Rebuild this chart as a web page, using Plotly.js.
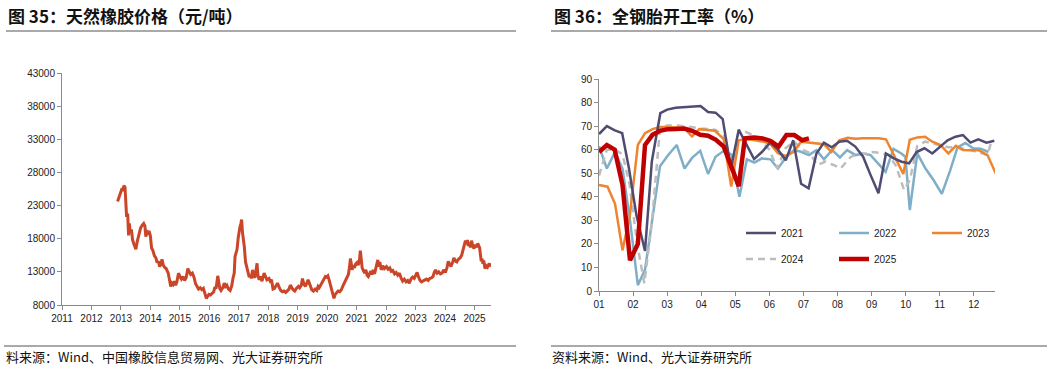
<!DOCTYPE html>
<html>
<head>
<meta charset="utf-8">
<script src="https://cdn.plot.ly/plotly-3.0.1.min.js"></script>
<style>
html,body{margin:0;padding:0;background:#fff;}
#chart{width:1053px;height:367px;}
</style>
</head>
<body>
<div id="chart"></div>
<script>
// ---------- Left chart: natural rubber price (yuan/ton) ----------
const priceDates = [
"2012-11-20","2012-12-10","2012-12-28","2013-01-15","2013-01-25","2013-02-05","2013-02-20","2013-03-01","2013-03-12","2013-03-25",
"2013-04-05","2013-04-15","2013-04-25","2013-05-10","2013-05-25","2013-06-10","2013-07-05","2013-07-20","2013-08-10","2013-09-01",
"2013-09-20","2013-10-10","2013-10-25","2013-11-05","2013-11-15","2013-12-01","2013-12-15","2014-01-01","2014-01-15","2014-02-01",
"2014-02-20","2014-03-10","2014-03-25","2014-04-10","2014-04-25","2014-05-10","2014-05-25","2014-06-10","2014-06-25","2014-07-15",
"2014-08-10","2014-08-25","2014-09-10","2014-09-25","2014-10-10","2014-10-25","2014-11-10","2014-11-25","2014-12-15","2015-01-05",
"2015-01-20","2015-02-10","2015-03-01","2015-03-20","2015-04-10","2015-04-25","2015-05-15","2015-06-05","2015-06-25","2015-07-15",
"2015-07-30","2015-08-20","2015-09-10","2015-10-01","2015-10-20","2015-11-10","2015-11-25","2015-12-10","2015-12-28","2016-01-15",
"2016-02-05","2016-02-25","2016-03-10","2016-03-25","2016-04-15","2016-04-28","2016-05-10","2016-05-25","2016-06-15","2016-07-05",
"2016-07-20","2016-08-05","2016-08-25","2016-09-15","2016-10-05","2016-10-20","2016-11-05","2016-11-15","2016-11-28","2016-12-10",
"2016-12-25","2017-01-05","2017-01-15","2017-01-25","2017-02-05","2017-02-15","2017-02-25","2017-03-10","2017-03-25","2017-04-10",
"2017-04-25","2017-05-10","2017-05-25","2017-06-05","2017-06-20","2017-07-05","2017-07-20","2017-08-05","2017-08-15","2017-08-25",
"2017-09-10","2017-09-25","2017-10-15","2017-11-10","2017-11-25","2017-12-15","2018-01-10","2018-01-25","2018-02-10","2018-03-01",
"2018-03-20","2018-04-10","2018-04-25","2018-05-15","2018-06-05","2018-06-25","2018-07-15","2018-08-05","2018-08-25","2018-09-15",
"2018-10-01","2018-10-15","2018-11-05","2018-11-25","2018-12-15","2019-01-10","2019-01-25","2019-02-15","2019-03-01","2019-03-15",
"2019-04-05","2019-04-20","2019-05-10","2019-05-25","2019-06-10","2019-06-25","2019-07-15","2019-08-05","2019-08-25","2019-09-10",
"2019-09-25","2019-10-15","2019-11-05","2019-11-25","2019-12-10","2019-12-25","2020-01-10","2020-01-25","2020-02-10","2020-02-20",
"2020-03-05","2020-03-15","2020-03-25","2020-04-10","2020-04-25","2020-05-15","2020-06-05","2020-06-25","2020-07-15","2020-08-01",
"2020-08-20","2020-09-05","2020-09-20","2020-10-05","2020-10-15","2020-10-25","2020-11-05","2020-11-20","2020-12-05","2020-12-20",
"2021-01-05","2021-01-20","2021-02-05","2021-02-15","2021-02-25","2021-03-10","2021-03-25","2021-04-10","2021-04-25","2021-05-10",
"2021-05-25","2021-06-10","2021-06-25","2021-07-10","2021-07-25","2021-08-10","2021-08-25","2021-09-10","2021-09-20","2021-10-01",
"2021-10-15","2021-11-01","2021-11-20","2021-12-10","2022-01-05","2022-01-25","2022-02-15","2022-03-05","2022-03-25","2022-04-15",
"2022-05-05","2022-05-25","2022-06-15","2022-07-05","2022-07-25","2022-08-15","2022-09-05","2022-09-25","2022-10-15","2022-11-05",
"2022-11-25","2022-12-15","2023-01-05","2023-01-20","2023-02-05","2023-02-25","2023-03-15","2023-04-05","2023-04-25","2023-05-15",
"2023-06-05","2023-06-25","2023-07-15","2023-08-05","2023-08-20","2023-09-05","2023-09-25","2023-10-15","2023-11-05","2023-11-25",
"2023-12-15","2024-01-05","2024-01-25","2024-02-10","2024-02-25","2024-03-15","2024-04-05","2024-04-20","2024-05-10","2024-05-25",
"2024-06-15","2024-07-05","2024-07-25","2024-08-10","2024-08-25","2024-09-10","2024-09-25","2024-10-05","2024-10-15","2024-10-25",
"2024-11-10","2024-11-25","2024-12-10","2024-12-25","2025-01-10","2025-01-25","2025-02-10","2025-02-20","2025-03-05","2025-03-15",
"2025-03-25","2025-04-05","2025-04-15","2025-04-25","2025-05-10","2025-05-25","2025-06-10","2025-06-25","2025-07-10","2025-07-20"
];
const priceValues = [
23600,24300,25000,25600,25200,26000,25800,22500,21300,21800,
18500,20300,18900,19400,17800,17200,16400,17500,18800,19600,
20000,20300,19900,18300,19300,18600,19200,18400,16600,16200,
15400,15100,14400,14600,13800,14100,14900,14000,13700,13500,
12800,11900,10800,11300,11100,11600,11000,11500,12800,12200,
11900,12300,11700,12100,13500,13100,12600,12800,12200,11200,
10800,10400,10600,10300,10500,9600,9000,9300,9600,9500,
9800,10000,10700,10500,12400,11600,10500,10200,10600,11300,
10800,11000,10400,10200,10900,12000,12800,15300,15900,16400,
18200,19300,19800,20200,20900,19000,18100,16800,14500,13500,
12800,12200,12600,12000,13300,12400,12100,13400,14300,12600,
11800,12300,11600,12800,12300,11800,12000,11600,11800,10400,
10500,11000,11300,10700,10200,10000,10100,9900,10200,10400,
11000,10700,10300,10100,10500,10800,10600,11000,12000,11300,
10800,11200,11800,11300,10700,10300,10100,10400,10200,10800,
10600,11000,11600,11800,12300,12200,12400,11800,11100,10400,
10000,9300,9000,9600,9800,10100,10000,10300,10900,11400,
11800,12300,12600,13800,15000,14300,13300,14000,13600,14200,
14400,14000,14800,16200,14700,13600,13200,12800,13300,12500,
12300,12800,13100,12600,13300,12700,13400,14100,14800,13800,
14500,13300,13900,13500,13800,13400,13600,13100,13200,12700,
12900,12500,12800,12100,11600,11900,11500,11700,11300,11900,
12200,12000,12600,12900,12300,11700,11500,11600,11800,11900,
11700,12000,12100,12300,12900,13300,12800,13000,12700,12800,
13300,12900,13600,14600,14200,13800,14500,15100,14600,14500,
14900,15100,15500,16300,16800,17700,17200,17800,16900,17400,
16700,17700,16900,16500,17100,16700,17300,17000,16600,15600,
14600,15000,14200,14700,13500,13900,13700,14100,14000,14300
];

// ---------- Right chart: all-steel tire operating rate (%) ----------
const monthLabels = ["01","02","03","04","05","06","07","08","09","10","11","12"];

const x2021 = [0,0.23,0.45,0.68,0.88,1.1,1.35,1.55,1.8,2.0,2.25,2.5,2.75,2.98,3.2,3.42,3.63,3.87,4.1,4.3,4.55,4.78,5.02,5.25,5.48,5.7,5.93,6.15,6.38,6.6,6.83,7.05,7.28,7.52,7.75,7.97,8.2,8.42,8.65,8.88,9.1,9.32,9.55,9.78,10.0,10.23,10.46,10.68,10.9,11.13,11.37,11.6];
const y2021 = [66.6,70,68.3,67,52,32,17,55,75.5,77,77.8,78,78,78.5,76,75.7,73,52,68.5,63,56,59,63,60,55.5,64,45.5,43.6,58.4,63,61,63.4,63.8,61.3,57,49.2,41.5,58.4,56.3,54.9,54.2,59,60.6,58.4,61,64,65.5,66.2,63,64.4,63,63.8];

const x2022 = [0,0.23,0.47,0.69,0.91,1.14,1.35,1.57,1.79,2.02,2.28,2.51,2.73,2.97,3.2,3.42,3.66,3.88,4.12,4.34,4.56,4.78,5.03,5.25,5.5,5.72,5.93,6.16,6.38,6.6,6.84,7.07,7.28,7.53,7.75,7.97,8.19,8.41,8.64,8.87,8.99,9.12,9.34,9.58,9.82,10.06,10.3,10.52,10.75,10.98,11.2,11.43];
const y2022 = [61.5,52,59,52,30,2.5,9,32,53,57.5,62,52,56.5,59.5,49.7,57,59.5,58,40,55.9,54.5,56.3,55.9,52,57,59.8,59.1,57.7,59.8,55.9,59.8,56.7,59.8,57.7,58.4,57.7,54,50.6,60.3,58.4,57,34.4,58.4,52,47,41.2,51,61,62.8,60.6,60.4,59];

const x2023 = [0,0.25,0.47,0.69,0.9,1.14,1.35,1.57,1.79,2.0,2.25,2.53,2.73,2.94,3.2,3.4,3.66,3.88,4.1,4.33,4.56,4.8,5.02,5.25,5.47,5.72,5.93,6.15,6.38,6.6,6.82,7.05,7.3,7.53,7.75,7.97,8.2,8.42,8.67,8.93,9.12,9.34,9.57,9.78,10.02,10.25,10.47,10.68,10.91,11.15,11.4,11.65];
const y2023 = [45,44.3,37,17.3,31.5,62,67,68.7,69.6,69.6,69.5,68.7,65.6,68.7,68.4,68,64.5,44.3,64,64.5,64,63.5,62.5,58.5,57.3,59.1,63.4,63,62.8,62.3,59.1,64,65,64.6,64.8,64.8,64.8,64.4,57,49.7,64.2,65.2,65.5,63.4,62,58.4,61.6,59.9,59.7,59.7,57.7,49.7];

const x2024 = [0,0.23,0.47,0.69,0.9,1.12,1.33,1.55,1.79,2.0,2.25,2.5,2.75,3.0,3.2,3.42,3.65,3.88,4.1,4.3,4.54,4.78,5.0,5.23,5.47,5.72,5.97,6.2,6.4,6.65,6.88,7.09,7.39,7.6,7.83,8.05,8.28,8.5,8.72,8.95,9.12,9.34,9.57,9.8,10.02,10.25,10.47,10.68,10.91,11.15,11.4,11.5,11.65];
const y2024 = [49,60,60,58,45,20,3.3,29,69,70.3,70.3,70,69.5,69,68.8,68.4,66,51,68,67.6,66,63.4,60,52,60.6,63.4,60,58.4,53.5,54.9,53.5,52,57,58,58.4,59,58.5,57.8,53,42.9,47,61.6,63.4,62.5,61.6,61,61,60.5,59.8,58.9,57.7,62.8,62.8];

const x2025 = [0,0.23,0.46,0.69,0.91,1.14,1.35,1.57,1.79,2.02,2.25,2.5,2.73,2.97,3.2,3.43,3.66,3.88,4.1,4.28,4.55,4.8,5.04,5.27,5.5,5.73,5.96,6.16];
const y2025 = [59,62,60,45,13,20,62,66.3,68,68.7,68.8,69,68,66.3,65.9,64.2,61.3,53.5,44.5,64.8,65.2,64.8,63.7,61.3,66.2,66.2,64,64.8];

const W = 1053, H = 367;
const px = v => v / W;
const py = v => 1 - v / H;

const tickFont = {family: "Liberation Sans, Arial, sans-serif", size: 10, color: "#222"};
const xTickFont = {family: "Liberation Sans Narrow, Liberation Sans, Arial, sans-serif", size: 10, color: "#222"};

const traces = [
  {x: priceDates, y: priceValues, type: "scatter", mode: "lines", xaxis: "x", yaxis: "y",
   line: {color: "#CB4528", width: 3}, showlegend: false, hoverinfo: "skip"},
  {x: x2022, y: y2022, name: "2022", type: "scatter", mode: "lines", xaxis: "x2", yaxis: "y2",
   line: {color: "#7FAFC8", width: 2.5}, legendrank: 2, legend: "legend"},
  {x: x2024, y: y2024, name: "2024", type: "scatter", mode: "lines", xaxis: "x2", yaxis: "y2",
   line: {color: "#BDBDBD", width: 2.5, dash: "7px,5px"}, legendrank: 4, legend: "legend2"},
  {x: x2023, y: y2023, name: "2023", type: "scatter", mode: "lines", xaxis: "x2", yaxis: "y2",
   line: {color: "#F0842E", width: 2.5}, legendrank: 3, legend: "legend"},
  {x: x2021, y: y2021, name: "2021", type: "scatter", mode: "lines", xaxis: "x2", yaxis: "y2",
   line: {color: "#4F4C72", width: 2.5}, legendrank: 1, legend: "legend"},
  {x: x2025, y: y2025, name: "2025", type: "scatter", mode: "lines", xaxis: "x2", yaxis: "y2",
   line: {color: "#C00000", width: 4.5}, legendrank: 5, legend: "legend2"}
];

const axisCommon = {
  showgrid: false, zeroline: false, showline: true, linecolor: "#8a8a8a", linewidth: 1,
  ticks: "outside", ticklen: 4, tickcolor: "#8a8a8a", tickwidth: 1, fixedrange: true
};

const legendCommon = {
  orientation: "h", xanchor: "left", yanchor: "middle", bgcolor: "rgba(0,0,0,0)",
  borderwidth: 0, entrywidth: 48, entrywidthmode: "pixels", itemwidth: 30,
  font: {family: "Liberation Sans, Arial, sans-serif", size: 10, color: "#222"},
  traceorder: "normal"
};

const layout = {
  width: W, height: H,
  margin: {l: 0, r: 0, t: 0, b: 0, autoexpand: false},
  paper_bgcolor: "#fff", plot_bgcolor: "#fff",
  xaxis: Object.assign({}, axisCommon, {
    domain: [px(62), px(491)], anchor: "y", type: "date", automargin: false,
    range: ["2011-01-01", "2025-07-24"], dtick: "M12", tick0: "2011-01-01",
    tickformat: "%Y", tickfont: xTickFont
  }),
  yaxis: Object.assign({}, axisCommon, {
    domain: [1 - 305 / H, 1 - 73 / H], anchor: "x", automargin: false,
    range: [8000, 43000], dtick: 5000, tick0: 8000, tickformat: "d", tickfont: tickFont
  }),
  xaxis2: Object.assign({}, axisCommon, {
    domain: [px(599), px(995)], anchor: "y2", automargin: false,
    range: [0, 11.62], tickmode: "array", tickvals: monthLabels.map((_, i) => i), ticktext: monthLabels,
    tickfont: xTickFont
  }),
  yaxis2: Object.assign({}, axisCommon, {
    domain: [1 - 291 / H, 1 - 79 / H], anchor: "x2", automargin: false,
    range: [0, 90], dtick: 10, tick0: 0, tickfont: tickFont
  }),
  legend: Object.assign({}, legendCommon, {x: px(741), y: py(233)}),
  legend2: Object.assign({}, legendCommon, {x: px(741), y: py(259)}),
  annotations: [
    {text: "图 35：天然橡胶价格（元/吨）", xref: "paper", yref: "paper", x: px(6), y: py(16),
     xanchor: "left", yanchor: "middle", showarrow: false,
     font: {family: "Noto Sans CJK SC, sans-serif", size: 17, color: "#111", weight: "bold"}},
    {text: "图 36：全钢胎开工率（%）", xref: "paper", yref: "paper", x: px(552), y: py(16),
     xanchor: "left", yanchor: "middle", showarrow: false,
     font: {family: "Noto Sans CJK SC, sans-serif", size: 17, color: "#111", weight: "bold"}},
    {text: "料来源：Wind、中国橡胶信息贸易网、光大证券研究所", xref: "paper", yref: "paper", x: px(4), y: py(356),
     xanchor: "left", yanchor: "middle", showarrow: false,
     font: {family: "Noto Sans CJK SC, sans-serif", size: 13, color: "#111"}},
    {text: "资料来源：Wind、光大证券研究所", xref: "paper", yref: "paper", x: px(550), y: py(356),
     xanchor: "left", yanchor: "middle", showarrow: false,
     font: {family: "Noto Sans CJK SC, sans-serif", size: 13, color: "#111"}}
  ],
  shapes: [
    {type: "line", xref: "paper", yref: "paper", x0: px(6), x1: px(516), y0: py(31), y1: py(31), line: {color: "#555", width: 1.2}},
    {type: "line", xref: "paper", yref: "paper", x0: px(551), x1: px(1047), y0: py(31), y1: py(31), line: {color: "#555", width: 1.2}},
    {type: "line", xref: "paper", yref: "paper", x0: px(4), x1: px(516), y0: py(346), y1: py(346), line: {color: "#555", width: 1}},
    {type: "line", xref: "paper", yref: "paper", x0: px(551), x1: px(1047), y0: py(346), y1: py(346), line: {color: "#555", width: 1}}
  ]
};

Plotly.newPlot("chart", traces, layout, {displayModeBar: false, staticPlot: true});
</script>
</body>
</html>
